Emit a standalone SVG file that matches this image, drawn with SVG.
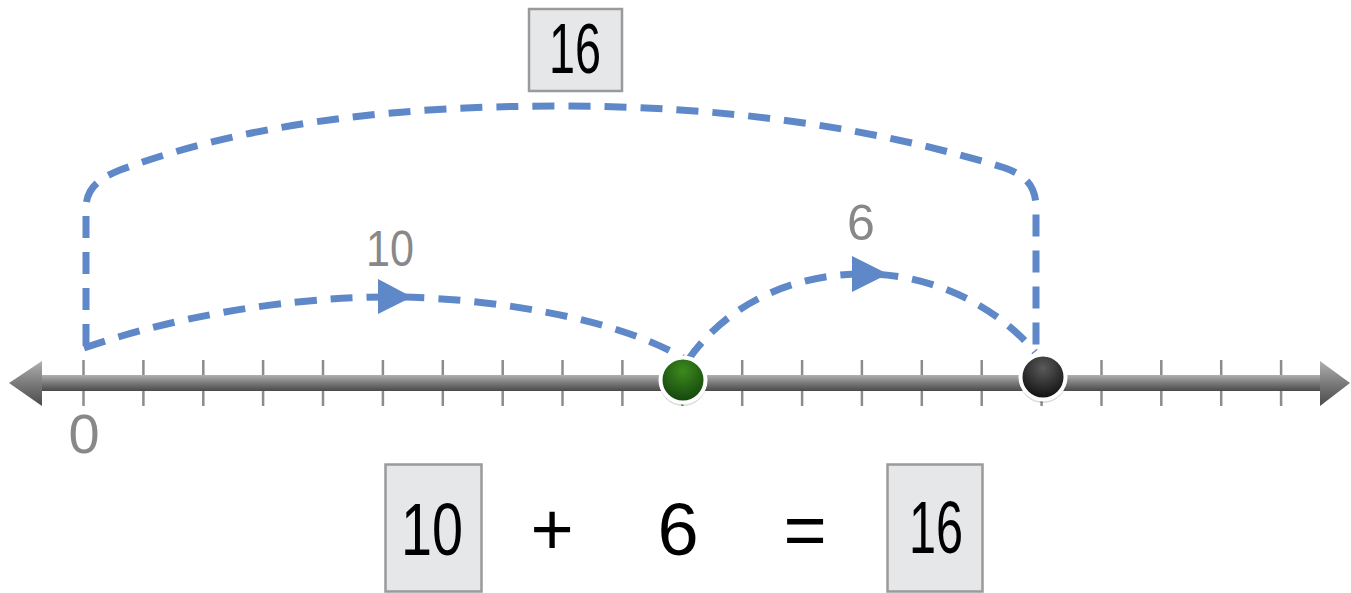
<svg xmlns="http://www.w3.org/2000/svg" width="1351" height="593" viewBox="0 0 1351 593">
<style>
.tick{stroke:#8c8c8c;stroke-width:2.5}
.dash{fill:none;stroke:#5f88c8;stroke-width:7;stroke-dasharray:22 14}
.head{fill:#5f88c8}
.box{fill:#e6e7e9;stroke:#9a9a9a;stroke-width:2.5}
.gray{font-family:"Liberation Sans",Arial,sans-serif;fill:#888;text-anchor:middle}
.blk{font-family:"Liberation Sans",Arial,sans-serif;fill:#000;text-anchor:middle}
</style>
<defs>
<linearGradient id="bar" x1="0" y1="0" x2="0" y2="1">
<stop offset="0" stop-color="#b0b0b0"/><stop offset="0.5" stop-color="#7a7a7a"/><stop offset="1" stop-color="#4a4a4a"/>
</linearGradient>
<radialGradient id="gdot" cx="0.5" cy="0.3" r="0.7">
<stop offset="0" stop-color="#3d8a1c"/><stop offset="1" stop-color="#12430e"/>
</radialGradient>
<radialGradient id="bdot" cx="0.5" cy="0.3" r="0.7">
<stop offset="0" stop-color="#5a5a5a"/><stop offset="1" stop-color="#0e0e0e"/>
</radialGradient>
</defs>
<g id="number-line">
<g id="ticks">
<line class="tick" x1="83.5" y1="360" x2="83.5" y2="406"/>
<line class="tick" x1="143.4" y1="360" x2="143.4" y2="406"/>
<line class="tick" x1="203.3" y1="360" x2="203.3" y2="406"/>
<line class="tick" x1="263.1" y1="360" x2="263.1" y2="406"/>
<line class="tick" x1="323" y1="360" x2="323" y2="406"/>
<line class="tick" x1="382.9" y1="360" x2="382.9" y2="406"/>
<line class="tick" x1="442.8" y1="360" x2="442.8" y2="406"/>
<line class="tick" x1="502.7" y1="360" x2="502.7" y2="406"/>
<line class="tick" x1="562.5" y1="360" x2="562.5" y2="406"/>
<line class="tick" x1="622.4" y1="360" x2="622.4" y2="406"/>
<line class="tick" x1="682.3" y1="360" x2="682.3" y2="406"/>
<line class="tick" x1="742.2" y1="360" x2="742.2" y2="406"/>
<line class="tick" x1="802.1" y1="360" x2="802.1" y2="406"/>
<line class="tick" x1="861.9" y1="360" x2="861.9" y2="406"/>
<line class="tick" x1="921.8" y1="360" x2="921.8" y2="406"/>
<line class="tick" x1="981.7" y1="360" x2="981.7" y2="406"/>
<line class="tick" x1="1041.6" y1="360" x2="1041.6" y2="406"/>
<line class="tick" x1="1101.5" y1="360" x2="1101.5" y2="406"/>
<line class="tick" x1="1161.3" y1="360" x2="1161.3" y2="406"/>
<line class="tick" x1="1221.2" y1="360" x2="1221.2" y2="406"/>
<line class="tick" x1="1281.1" y1="360" x2="1281.1" y2="406"/>
</g>
<rect x="38" y="375" width="1286" height="16" fill="url(#bar)"/>
<polygon points="9,383 42,361 42,406" fill="url(#bar)"/>
<polygon points="1350,383 1320,361 1320,406" fill="url(#bar)"/>
<text class="gray" x="84" y="453" font-size="56">0</text>
</g>
<g id="connectors">
<path class="dash" d="M 84 348 C 200 308 320 296 400 297 C 500 299 620 320 683 358"/>
<polygon class="head" points="378,279 378,314 412,297"/>
<path class="dash" d="M 688 360 C 730 300 800 272 870 274 C 940 276 1000 310 1035 352"/>
<polygon class="head" points="852,256 852,292 888,274"/>
<path class="dash" d="M 86 346 L 86 208 C 86 188 100 178 120 170 C 250 122 400 106 560 106 C 720 106 870 126 1005 168 C 1028 176 1036 188 1036 208 L 1036 350"/>
</g>
<g id="label-10">
<text class="gray" x="390" y="266" font-size="50" textLength="48" lengthAdjust="spacingAndGlyphs">10</text>
</g>
<g id="label-6">
<text class="gray" x="861" y="240" font-size="50">6</text>
</g>
<g id="dot-10">
<circle cx="683" cy="382" r="24" fill="#000" opacity="0.15"/>
<circle cx="683" cy="380" r="22.5" fill="url(#gdot)" stroke="#ffffff" stroke-width="4"/>
</g>
<g id="dot-16">
<circle cx="1043" cy="379" r="24" fill="#000" opacity="0.15"/>
<circle cx="1043" cy="377" r="22.5" fill="url(#bdot)" stroke="#ffffff" stroke-width="4"/>
</g>
<g id="box-top-16">
<rect class="box" x="529" y="9" width="93" height="82"/>
<text class="blk" x="575" y="73" font-size="70" textLength="52" lengthAdjust="spacingAndGlyphs">16</text>
</g>
<g id="equation">
<g id="box-10">
<rect class="box" x="385.5" y="464.5" width="96" height="127"/>
<text class="blk" x="432" y="555" font-size="74" textLength="62" lengthAdjust="spacingAndGlyphs">10</text>
</g>
<text class="blk" x="552" y="555" font-size="74">+</text>
<text class="blk" x="678" y="555" font-size="74">6</text>
<text class="blk" x="805" y="555" font-size="74">=</text>
<g id="box-16">
<rect class="box" x="887.5" y="464.5" width="95" height="127"/>
<text class="blk" x="936" y="553" font-size="74" textLength="54" lengthAdjust="spacingAndGlyphs">16</text>
</g>
</g>
</svg>
